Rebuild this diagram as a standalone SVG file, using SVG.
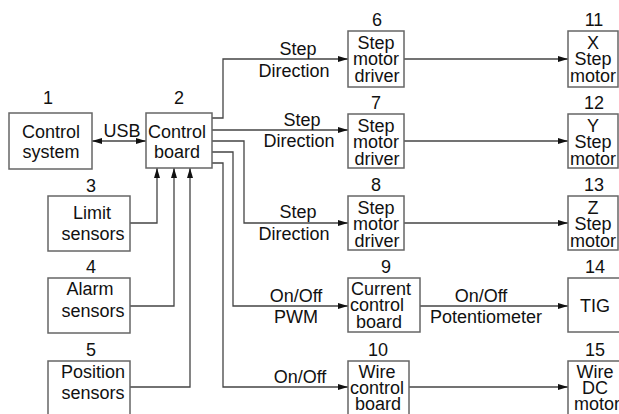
<svg xmlns="http://www.w3.org/2000/svg" width="619" height="414" viewBox="0 0 619 414">
<defs>
<marker id="ah" viewBox="0 0 10 6" refX="10" refY="3" markerWidth="10" markerHeight="6" markerUnits="userSpaceOnUse" orient="auto-start-reverse">
<path d="M0,0 L10,3 L0,6 Z" fill="#111"/>
</marker>
<style>
.box{fill:#fff;stroke:#666;stroke-width:1.5}
.ln{fill:none;stroke:#444;stroke-width:1.3}
text{font-family:"Liberation Sans",Arial,sans-serif;font-size:18px;fill:#111;text-anchor:middle}
</style>
</defs>
<rect width="619" height="414" fill="#fff"/>
<g id="connectors">
<path class="ln" d="M92,141 H146" marker-start="url(#ah)" marker-end="url(#ah)"/>
<path class="ln" d="M130,223 H157 V168" marker-end="url(#ah)"/>
<path class="ln" d="M130,306 H174 V168" marker-end="url(#ah)"/>
<path class="ln" d="M130,387 H190 V168" marker-end="url(#ah)"/>
<path class="ln" d="M212,118 H223 V59 H348" marker-end="url(#ah)"/>
<path class="ln" d="M212,130 H348" marker-end="url(#ah)"/>
<path class="ln" d="M212,141 H244 V223 H348" marker-end="url(#ah)"/>
<path class="ln" d="M212,152 H233 V306 H348" marker-end="url(#ah)"/>
<path class="ln" d="M212,163 H223 V387 H348" marker-end="url(#ah)"/>
<path class="ln" d="M404,59 H568" marker-end="url(#ah)"/>
<path class="ln" d="M404,141 H568" marker-end="url(#ah)"/>
<path class="ln" d="M404,223 H568" marker-end="url(#ah)"/>
<path class="ln" d="M420,306 H568" marker-end="url(#ah)"/>
<path class="ln" d="M409,387 H568" marker-end="url(#ah)"/>
<text x="122" y="137">USB</text>
<text x="298" y="55">Step</text>
<text x="294" y="77">Direction</text>
<text x="302" y="126">Step</text>
<text x="299" y="147">Direction</text>
<text x="298" y="218">Step</text>
<text x="294" y="240">Direction</text>
<text x="296" y="302">On/Off</text>
<text x="296" y="323">PWM</text>
<text x="300" y="383">On/Off</text>
<text x="481" y="302">On/Off</text>
<text x="486" y="323">Potentiometer</text>
</g>
<g id="n1"><rect class="box" x="9" y="113" width="83" height="56"/><text x="48" y="104">1</text><text x="51" y="138">Control</text><text x="51" y="158">system</text></g>
<g id="n2"><rect class="box" x="146" y="113" width="66" height="55"/><text x="179" y="104">2</text><text x="177" y="138">Control</text><text x="177" y="158">board</text></g>
<g id="n3"><rect class="box" x="48" y="196" width="82" height="55"/><text x="91" y="192">3</text><text x="92" y="219">Limit</text><text x="93" y="240">sensors</text></g>
<g id="n4"><rect class="box" x="48" y="278" width="82" height="55"/><text x="91" y="273">4</text><text x="90" y="295">Alarm</text><text x="93" y="317">sensors</text></g>
<g id="n5"><rect class="box" x="48" y="361" width="82" height="60"/><text x="91" y="356">5</text><text x="93" y="378">Position</text><text x="93" y="399">sensors</text></g>
<g id="n6"><rect class="box" x="348" y="31" width="56" height="56"/><text x="377" y="26">6</text><text x="376" y="49">Step</text><text x="376" y="65">motor</text><text x="377" y="82">driver</text></g>
<g id="n7"><rect class="box" x="348" y="114" width="56" height="54"/><text x="376" y="109">7</text><text x="376" y="132">Step</text><text x="376" y="148">motor</text><text x="377" y="165">driver</text></g>
<g id="n8"><rect class="box" x="348" y="196" width="56" height="54"/><text x="376" y="191">8</text><text x="376" y="214">Step</text><text x="376" y="230">motor</text><text x="377" y="247">driver</text></g>
<g id="n9"><rect class="box" x="348" y="278" width="72" height="54"/><text x="386" y="273">9</text><text x="381" y="295">Current</text><text x="377" y="311">control</text><text x="379" y="328">board</text></g>
<g id="n10"><rect class="box" x="348" y="361" width="61" height="60"/><text x="378" y="356">10</text><text x="377" y="378">Wire</text><text x="377" y="394">control</text><text x="378" y="410">board</text></g>
<g id="n11"><rect class="box" x="568" y="31" width="50" height="56"/><text x="594" y="26">11</text><text x="593" y="49">X</text><text x="593" y="65">Step</text><text x="593" y="82">motor</text></g>
<g id="n12"><rect class="box" x="568" y="114" width="50" height="54"/><text x="594" y="109">12</text><text x="593" y="132">Y</text><text x="593" y="148">Step</text><text x="593" y="165">motor</text></g>
<g id="n13"><rect class="box" x="568" y="196" width="50" height="54"/><text x="594" y="191">13</text><text x="593" y="214">Z</text><text x="593" y="230">Step</text><text x="593" y="247">motor</text></g>
<g id="n14"><rect class="box" x="568" y="278" width="60" height="54"/><text x="595" y="273">14</text><text x="595" y="312">TIG</text></g>
<g id="n15"><rect class="box" x="568" y="361" width="60" height="60"/><text x="595" y="356">15</text><text x="595" y="378">Wire</text><text x="595" y="394">DC</text><text x="597" y="410">motor</text></g>
</svg>
